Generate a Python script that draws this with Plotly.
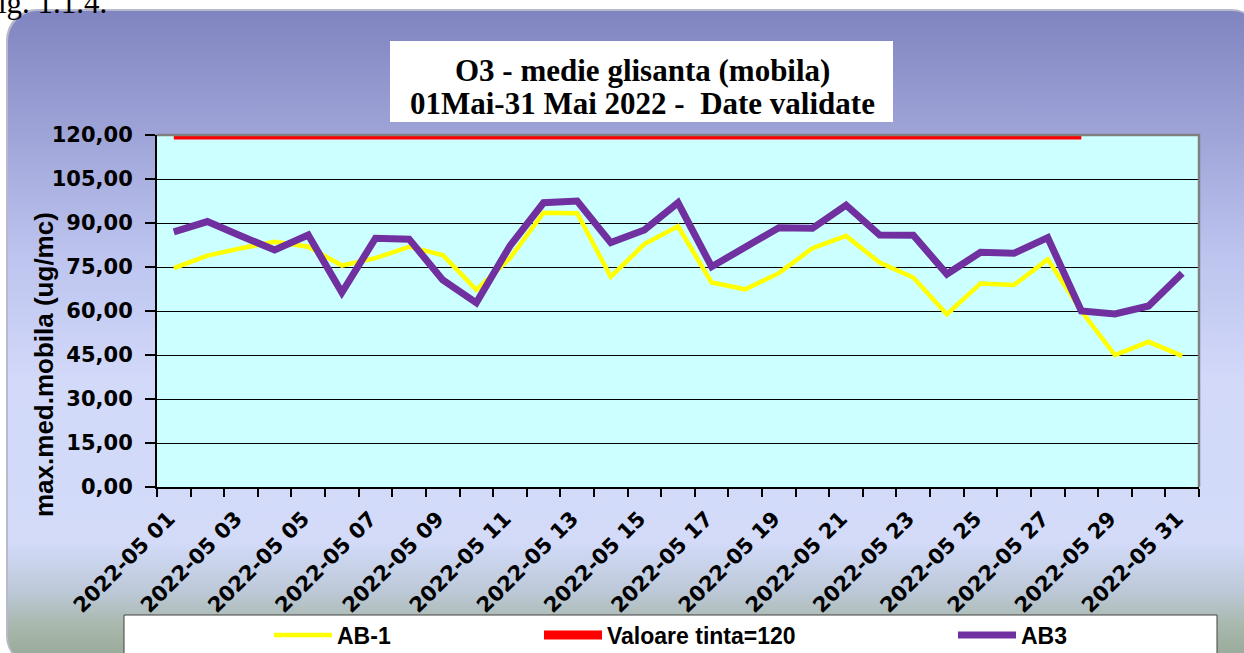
import base64
import plotly.graph_objects as go

# ---------------- data ----------------
dates = ["2022-05 01", "2022-05 02", "2022-05 03", "2022-05 04", "2022-05 05",
         "2022-05 06", "2022-05 07", "2022-05 08", "2022-05 09", "2022-05 10",
         "2022-05 11", "2022-05 12", "2022-05 13", "2022-05 14", "2022-05 15",
         "2022-05 16", "2022-05 17", "2022-05 18", "2022-05 19", "2022-05 20",
         "2022-05 21", "2022-05 22", "2022-05 23", "2022-05 24", "2022-05 25",
         "2022-05 26", "2022-05 27", "2022-05 28", "2022-05 29", "2022-05 30",
         "2022-05 31"]
ab1 = [74.6, 78.9, 81.4, 83.6, 81.9, 75.5, 78.0, 81.9, 79.1, 67.2,
       78.0, 93.5, 93.3, 71.7, 82.8, 88.9, 69.7, 67.4, 72.9, 81.4,
       85.6, 76.5, 71.4, 58.9, 69.4, 68.9, 77.6, 60.0, 45.0, 49.5, 44.7]
ab3 = [87.0, 90.5, 85.6, 80.8, 85.9, 66.3, 84.8, 84.5, 70.6, 62.8,
       82.2, 96.9, 97.5, 83.3, 87.6, 96.9, 75.1, 81.8, 88.4, 88.2,
       96.1, 85.9, 85.8, 72.6, 80.0, 79.7, 85.0, 60.0, 59.0, 61.7, 72.9]
target = [120, 120, 120, 120, 120, 120, 120, 120, 120, 120,
          120, 120, 120, 120, 120, 120, 120, 120, 120, 120,
          120, 120, 120, 120, 120, 120, 120, 120, None, None, None]
y_ticks = [0, 15, 30, 45, 60, 75, 90, 105, 120]
tick_text_x = [d if i % 2 == 0 else "" for i, d in enumerate(dates)]
title_lines = ["O3 - medie glisanta (mobila)", "01Mai-31 Mai 2022 -  Date validate"]

# ---------------- geometry helpers ----------------
W, H = 1244, 653
L, R, T, B = 157, 45, 135, 166
PW = W - L - R
PH = H - T - B


def px(x):
    return (x - L) / PW


def py(y):
    return (H - B - y) / PH


def cx(x):
    return x / W


def cy(y):
    return 1 - y / H


SANS = "Liberation Sans, Arial, sans-serif"
WIDE = "DejaVu Sans, Verdana, sans-serif"
SERIF = "Liberation Serif, Times New Roman, serif"

# ---------------- background (rounded gradient panel) ----------------
svg = f"""<svg xmlns='http://www.w3.org/2000/svg' width='{W}' height='{H}' viewBox='0 0 {W} {H}' preserveAspectRatio='none'>
<defs><linearGradient id='g' x1='0' y1='0' x2='0' y2='1'>
<stop offset='0' stop-color='#8084c0'/>
<stop offset='0.183' stop-color='#9ea3d7'/>
<stop offset='0.366' stop-color='#bcc3ee'/>
<stop offset='0.565' stop-color='#d2d9f9'/>
<stop offset='0.809' stop-color='#d3dbf9'/>
<stop offset='0.885' stop-color='#bdc9d9'/>
<stop offset='0.939' stop-color='#a8b8ac'/>
<stop offset='1' stop-color='#94a694'/>
</linearGradient></defs>
<rect x='6' y='9' width='1256' height='658' rx='31' ry='31' fill='#b6bacb'/>
<rect x='8' y='11' width='1254' height='655' rx='30' ry='30' fill='url(#g)'/>
</svg>"""
bg_src = "data:image/svg+xml;base64," + base64.b64encode(svg.encode()).decode()

fig = go.Figure()

fig.add_trace(go.Scatter(x=dates, y=ab1, name="AB-1", mode="lines",
                         line=dict(color="#FFFF00", width=4.5), legend="legend"))
fig.add_trace(go.Scatter(x=dates, y=target, name="Valoare tinta=120", mode="lines",
                         line=dict(color="#FF0000", width=9), legend="legend2"))
fig.add_trace(go.Scatter(x=dates, y=ab3, name="AB3", mode="lines",
                         line=dict(color="#7030A0", width=7), legend="legend3"))

ITEMW = 58
legend_common = dict(orientation="h", xanchor="left", yanchor="middle",
                     xref="container", yref="container", itemwidth=ITEMW,
                     bgcolor="rgba(0,0,0,0)", borderwidth=0,
                     font=dict(family=SANS, size=23, color="black", weight="bold"))
shift = ITEMW - 30

fig.update_layout(
    width=W, height=H,
    margin=dict(l=L, r=R, t=T, b=B, pad=0, autoexpand=False),
    paper_bgcolor="white",
    plot_bgcolor="#CCFFFF",
    separators=", ",
    showlegend=True,
    legend=dict(x=cx(297 - shift), y=cy(635), **legend_common),
    legend2=dict(x=cx(567 - shift), y=cy(635), **legend_common),
    legend3=dict(x=cx(981 - shift), y=cy(635), **legend_common),
    xaxis=dict(type="category", categoryorder="array", categoryarray=dates,
               range=[-0.5, len(dates) - 0.5], automargin=False,
               tickmode="array", tickvals=dates, ticktext=tick_text_x,
               tickangle=-45, tickson="boundaries",
               ticks="outside", ticklen=8, tickwidth=1.5, tickcolor="black",
               ticklabelstandoff=9, ticklabelshift=-5,
               showline=True, linecolor="black", linewidth=2,
               showgrid=False, zeroline=False,
               tickfont=dict(family=WIDE, size=21, color="black", weight="bold")),
    yaxis=dict(range=[0, 120], tickmode="array", tickvals=y_ticks,
               tickformat=".2f", automargin=False,
               ticks="outside", ticklen=10, tickwidth=1.5, tickcolor="black",
               showline=True, linecolor="black", linewidth=2,
               showgrid=True, gridcolor="black", gridwidth=1,
               zeroline=False, ticklabelstandoff=8,
               tickfont=dict(family=WIDE, size=21, color="black", weight="bold")),
    images=[dict(source=bg_src, xref="paper", yref="paper",
                 x=px(0), y=py(0), sizex=W / PW, sizey=H / PH,
                 xanchor="left", yanchor="top", sizing="stretch", layer="below")],
    shapes=[
        dict(type="rect", xref="paper", yref="paper", x0=0, x1=1, y0=0, y1=1,
             fillcolor="#CCFFFF", line=dict(width=0), layer="below"),
        dict(type="rect", xref="paper", yref="paper",
             x0=px(390), x1=px(893), y0=py(122), y1=py(41),
             fillcolor="white", line=dict(width=0), layer="below"),
        dict(type="rect", xref="paper", yref="paper",
             x0=px(124), x1=px(1217), y0=py(680), y1=py(615),
             fillcolor="white", line=dict(color="#404040", width=1), layer="below"),
        dict(type="path", xref="paper", yref="paper",
             path="M 0,1 L 1,1 L 1,0", line=dict(color="#808080", width=2.5),
             layer="above"),
    ],
    annotations=[
        dict(text=title_lines[0],
             xref="paper", yref="paper", x=px(642), y=py(70),
             xanchor="center", yanchor="middle", showarrow=False,
             font=dict(family=SERIF, size=31, color="black", weight="bold")),
        dict(text=title_lines[1],
             xref="paper", yref="paper", x=px(642), y=py(104),
             xanchor="center", yanchor="middle", showarrow=False,
             font=dict(family=SERIF, size=31, color="black", weight="bold")),
        dict(text="max.med.mobila (ug/mc)", textangle=-90,
             xref="paper", yref="paper", x=px(44), y=py(365),
             xanchor="center", yanchor="middle", showarrow=False,
             font=dict(family=SANS, size=26, color="black", weight="bold")),
        dict(text="ig. 1.1.4.", xref="paper", yref="paper",
             x=px(-4), y=py(-17), xanchor="left", yanchor="top", showarrow=False,
             font=dict(family=SERIF, size=31, color="black")),
    ],
)

fig.write_html("out.html", config={"displayModeBar": False},
               post_script="document.body.style.margin='0';"
                           "document.body.style.overflow='hidden';")
